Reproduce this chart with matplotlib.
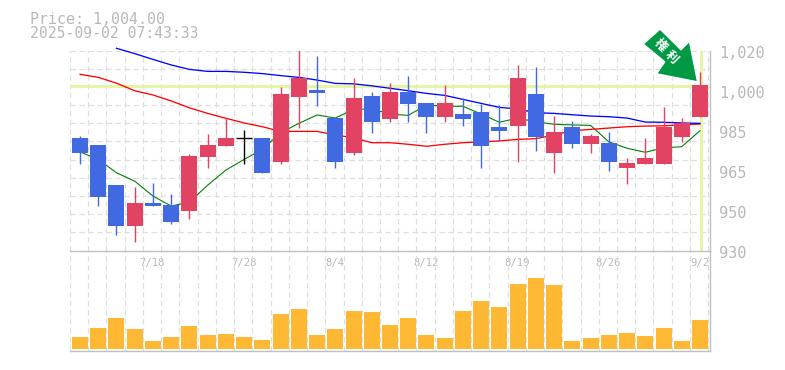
import matplotlib
matplotlib.use('Agg')
import matplotlib.pyplot as plt
from matplotlib.patches import Polygon
import numpy as np

W, H = 785, 370

# 四本値
opens = [980.6, 977.5, 959.5, 941.0, 951.4, 950.4, 947.8, 972.1, 977.0, 980.5, 980.6, 969.8,
         999.0, 1002.2, 989.6, 973.9, 999.5, 989.1, 1001.3, 996.4, 990.1, 991.4, 992.3, 985.6,
         986.0, 1000.4, 973.9, 985.6, 977.9, 978.3, 967.1, 968.9, 968.9, 981.0, 990.1]
highs = [981.5, 977.5, 959.5, 958.5, 960.4, 955.4, 973.4, 982.4, 989.8, 984.2, 980.6, 1003.5,
         1020.2, 1017.5, 989.6, 1007.6, 1001.3, 1005.4, 1008.5, 996.4, 1004.4, 998.6, 995.9, 995.4,
         1013.4, 1012.6, 990.5, 988.2, 982.4, 983.3, 971.6, 980.6, 994.5, 989.6, 1010.3]
lows = [969.0, 950.0, 937.0, 933.8, 950.0, 941.9, 944.1, 967.1, 977.0, 968.9, 964.9, 968.9,
        985.1, 995.0, 967.1, 973.0, 982.9, 987.8, 987.8, 982.9, 987.8, 986.0, 967.1, 979.3,
        969.8, 974.7, 964.9, 976.1, 973.9, 965.7, 959.9, 968.9, 968.9, 978.8, 990.1]
closes = [974.0, 954.1, 941.0, 951.4, 950.0, 942.8, 972.5, 977.5, 980.6, 980.5, 964.9, 1000.4,
          1007.6, 1000.9, 969.8, 998.6, 987.8, 1001.3, 995.9, 990.1, 996.4, 989.1, 977.0, 983.8,
          1007.6, 981.0, 983.3, 977.9, 981.5, 969.8, 969.3, 971.6, 985.6, 987.3, 1004.45]

# 移動平均
ma_green = [974.4, 971.0, 965.0, 961.2, 954.5, 950.0, 951.8, 959.4, 966.2, 971.0, 975.5, 983.0,
            987.2, 991.0, 989.6, 993.5, 993.7, 991.4, 990.8, 995.5, 994.9, 994.9, 991.4, 987.7,
            989.6, 987.9, 986.8, 986.5, 986.3, 978.9, 976.0, 974.2, 976.2, 976.7, 983.9]
ma_red = [1009.3, 1007.9, 1005.3, 1001.9, 1000.0, 997.3, 994.2, 991.7, 989.5, 987.4, 985.7, 983.6,
          983.6, 983.6, 982.0, 980.7, 978.5, 978.5, 977.8, 976.9, 977.8, 978.5, 978.9, 979.3,
          980.0, 980.3, 982.0, 983.9, 984.5, 985.1, 985.7, 986.0, 986.1, 986.6, 986.9]
ma_blue = [1021.0, 1018.6, 1016.0, 1013.5, 1011.5, 1010.6, 1010.6, 1010.2, 1009.6, 1008.7, 1007.9,
           1006.7, 1005.2, 1005.0, 1004.1, 1003.0, 1001.9, 1000.7, 999.8, 998.0, 996.2, 994.4, 993.7,
           992.0, 991.7, 991.1, 990.5, 990.2, 989.6, 987.8, 987.7, 987.4, 987.2]
ma_blue_start = 2

# 出来高
volumes = [12, 21, 31, 20, 8, 12, 23, 14, 15, 12, 9, 35, 40, 14, 20, 38, 37, 24,
           31, 14, 11, 38, 48, 42, 65, 71, 64, 8, 11, 14, 16, 13, 21, 8, 29]

date_idx = [4, 9, 14, 19, 24, 29, 34]
date_labels = ['7/18', '7/28', '8/4', '8/12', '8/19', '8/26', '9/2']
price_ticks = [1020, 1002, 984, 966, 948, 930]
price_labels = ['1,020', '1,000', '985', '965', '950', '930']
last_price = 1004.0
title_lines = ['Price: 1,004.00', '2025-09-02 07:43:33']

UP = '#E24362'
DOWN = '#4169E1'
VOL = '#FFB833'
GRID = '#DEDEDE'
AXIS = '#C0C0C0'
TEXT = '#B8B8B8'
MARK = '#E4F5A6'
ARROW = '#009944'
PX = 0.72
MONO = 'DejaVu Sans Mono'

fig = plt.figure(figsize=(W / 100, H / 100), dpi=100)


def box(left, top, right, bottom):
    return [left / W, 1 - bottom / H, (right - left) / W, (bottom - top) / H]


ax = fig.add_axes(box(70, 50.5, 710, 250.5))
ax_v = fig.add_axes(box(70, 250.5, 710, 350.5))
xlim = (-0.55, 34.55)
grid_x = np.arange(36) - 0.55
grid_y = np.linspace(930, 1020, 12)

for a in (ax, ax_v):
    a.set_xlim(xlim)
    a.set_xticks([])
    a.set_yticks([])
    a.patch.set_alpha(0)
    for s in a.spines.values():
        s.set_visible(False)
    a.vlines(grid_x, 0, 1, transform=a.get_xaxis_transform(), color=GRID, lw=PX * 1.2,
             linestyles=(0, (4.5, 3)), zorder=1)

ax.set_ylim(930, 1020)
ax.hlines(grid_y[1:], 0, 1, transform=ax.get_yaxis_transform(), color=GRID, lw=PX * 1.2,
          linestyles=(0, (4.5, 3)), zorder=1)
ax_v.set_ylim(-2, 98)

# 現在値のライン
ax.axhline(last_price, color=MARK, lw=3 * PX, zorder=2)
ax.axvline(34.03, color=MARK, lw=3 * PX, zorder=2)

x = np.arange(len(opens))
ax.plot(x, ma_green, color='#007F00', lw=PX * 1.1, zorder=3)
ax.plot(x, ma_red, color='#FF0000', lw=PX * 1.3, zorder=3)
ax.plot(x[ma_blue_start:], ma_blue, color='#0000FF', lw=PX * 1.3, zorder=3, clip_on=False)

# ローソク足
body_w = 16 / 18.234
for i in x:
    o, h, l, c = opens[i], highs[i], lows[i], closes[i]
    if o == c:
        col = '#000000'
        ax.hlines(c, i - body_w / 2, i + body_w / 2, color=col, lw=PX * 1.4, zorder=4)
    else:
        col = UP if c > o else DOWN
        ax.bar(i, abs(c - o), bottom=min(o, c), width=body_w, color=col, lw=0, zorder=4)
    ax.vlines(i, l, h, color=col, lw=PX * 1.4, zorder=4)

ax_v.bar(x, volumes, width=body_w, color=VOL, lw=0, zorder=3)

# 軸線
ax_v.axhline(98, color=AXIS, lw=PX * 1.4, zorder=5, clip_on=False)
ax_v.axhline(-2, color=AXIS, lw=PX * 1.4, zorder=5, clip_on=False)
for a in (ax, ax_v):
    a.axvline(xlim[1], color=AXIS, lw=PX * 1.4, zorder=5, clip_on=False)

for tick, label in zip(price_ticks, price_labels):
    ax.annotate(label, (1, tick), xycoords=('axes fraction', 'data'), xytext=(6.6, -1.8),
                textcoords='offset points', family=MONO, fontsize=11, color=TEXT,
                va='center', ha='left', annotation_clip=False)

for i, label in zip(date_idx, date_labels):
    ax.annotate(label, (i, 0), xycoords=('data', 'axes fraction'), xytext=(-0.3, -9),
                textcoords='offset points', family=MONO, fontsize=7.6, color=TEXT,
                va='center', ha='center', annotation_clip=False)

fig.text(30 / W, 1 - 19 / H, title_lines[0], family=MONO, fontsize=10.8, color=TEXT, va='center')
fig.text(30 / W, 1 - 34 / H, title_lines[1], family=MONO, fontsize=10.6, color=TEXT, va='center')

# 矢印バッジ
arrow_px = [(644.3, 44), (660, 30), (681, 50.7), (689, 42.7), (696.7, 81), (657.7, 73.3), (665.7, 61.7)]
arrow_xy = [(px / W, 1 - py / H) for px, py in arrow_px]
fig.add_artist(Polygon(arrow_xy, closed=True, transform=fig.transFigure, facecolor=ARROW, edgecolor='none', zorder=10))
for gx, gy, ch in [(660, 45, '権'), (671.7, 57.3, '利')]:
    fig.text(gx / W, 1 - gy / H, ch, family='Noto Sans CJK JP', fontsize=9, fontweight='bold',
             color='white', rotation=-45, ha='center', va='center', rotation_mode='anchor', zorder=11)

fig.savefig('out.png', dpi=100, facecolor='white')
